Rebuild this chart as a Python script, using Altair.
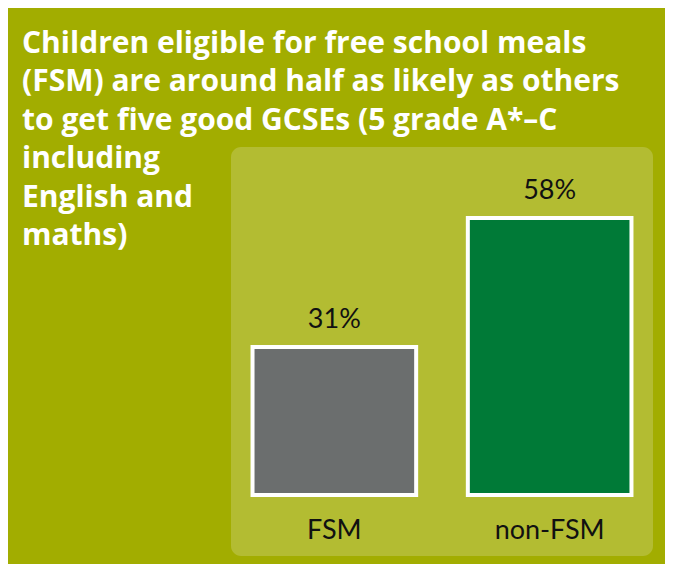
import altair as alt
import pandas as pd

categories = ["FSM", "non-FSM"]
values = [31, 58]
bar_colors = ["#6b6e6e", "#007a37"]

title_lines = [
    "Children eligible for free school meals",
    "(FSM) are around half as likely as others",
    "to get five good GCSEs (5 grade A*\u2013C",
    "including",
    "English and",
    "maths)",
]

df = pd.DataFrame({"Group": categories, "Value": values})

x_enc = alt.X(
    "Group:N",
    sort=categories,
    scale=alt.Scale(paddingInner=0.24, paddingOuter=0.1),
    axis=alt.Axis(
        title=None, domain=False, ticks=False, grid=False,
        labelAngle=0, labelFont="Lato", labelFontSize=27, labelColor="#111111",
        labelBaseline="alphabetic", labelPadding=0, offset=-18,
    ),
)
y_scale = alt.Scale(domain=[0, 58], range=[348, 71], nice=False, zero=True)

bars = alt.Chart(df).mark_bar(stroke="white", strokeWidth=4).encode(
    x=x_enc,
    y=alt.Y("Value:Q", scale=y_scale, axis=None),
    color=alt.Color("Group:N", scale=alt.Scale(domain=categories, range=bar_colors), legend=None),
)

labels = alt.Chart(df).transform_calculate(
    label="datum.Value + '%'"
).mark_text(
    font="Lato", fontSize=27, color="#111111", baseline="alphabetic", dy=-19
).encode(
    x=alt.X("Group:N", sort=categories),
    y=alt.Y("Value:Q", scale=y_scale),
    text="label:N",
)

chart = alt.layer(bars, labels).properties(
    width=422,
    height=409,
    background="#a2ad00",
    padding={"left": 223, "top": 139, "right": 12, "bottom": 8},
    autosize=alt.AutoSizeParams(type="none"),
    title=alt.TitleParams(
        text=title_lines,
        anchor="start",
        frame="group",
        font="Open Sans",
        fontSize=30,
        fontWeight="bold",
        color="white",
        lineHeight=38.5,
        dx=-209,
        dy=108,
    ),
).configure_view(
    fill="#b3bc32", stroke=None, cornerRadius=10
)

chart.save("out.html", embed_options={"renderer": "svg", "actions": False})
